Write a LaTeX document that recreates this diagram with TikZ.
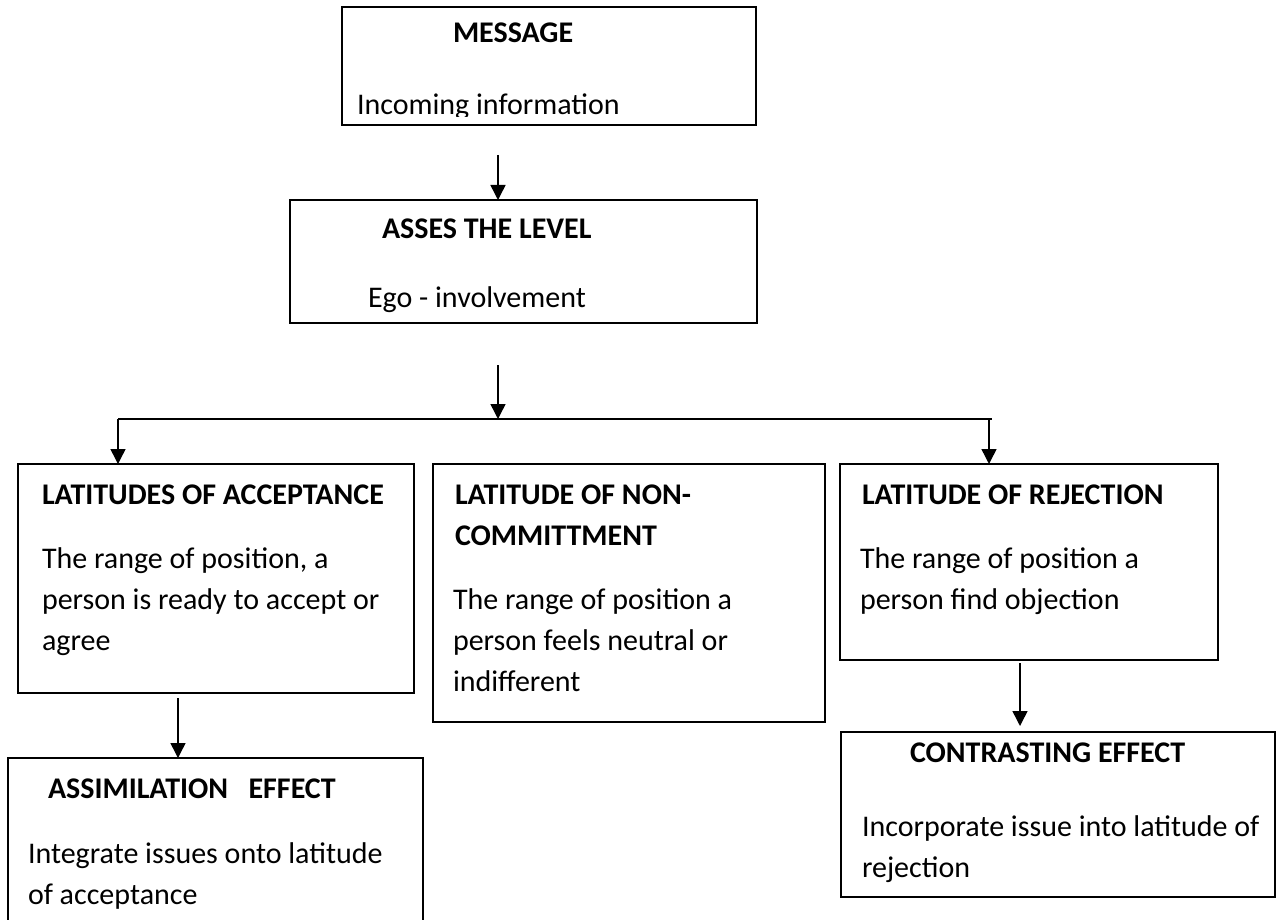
\documentclass[tikz,border=0pt]{standalone}
\usepackage{fontspec}
\setmainfont{Carlito}
\usetikzlibrary{arrows.meta}
\begin{document}
\begin{tikzpicture}[x=1pt,y=-1pt,
  box/.style={draw,line width=2.2pt,inner sep=0pt,outer sep=0pt},
  txt/.style={anchor=base west,inner sep=0pt,outer sep=0pt,font=\fontsize{30}{41}\selectfont},
  ttl/.style={anchor=base west,inner sep=0pt,outer sep=0pt,font=\fontsize{30}{41}\selectfont\bfseries},
  arr/.style={line width=1.5pt,-{Triangle[length=15pt,width=15pt]}},
  link/.style={line width=1.5pt}]
\fill[white] (0,0) rectangle (1277,920);
\useasboundingbox (0,0) rectangle (1277,920);

% boxes
\node[box,minimum width=414pt,minimum height=118pt] (M) at (549,66) {};
\node[box,minimum width=467pt,minimum height=123pt] (A) at (523.5,261.5) {};
\node[box,minimum width=396pt,minimum height=229pt] (L) at (216,578.5) {};
\node[box,minimum width=392pt,minimum height=258pt] (N) at (629,593) {};
\node[box,minimum width=378pt,minimum height=196pt] (R) at (1029,562) {};
\node[box,minimum width=415pt,minimum height=172pt] (S) at (215.5,844) {};
\node[box,minimum width=434pt,minimum height=165pt] (C) at (1058,814.5) {};

% texts
\node[ttl] (mt) at (453,43) {MESSAGE};
\begin{scope}
  \clip (342,7) rectangle (756,117);
  \node[txt] (mb) at (357,115) {Incoming information};
\end{scope}
\node[ttl] (at) at (382,238) {ASSES THE LEVEL};
\node[txt] (ab) at (368,307) {Ego - involvement};

\node[ttl] (lt) at (42,504) {LATITUDES OF ACCEPTANCE};
\node[txt] (l1) at (42,568) {The range of position, a};
\node[txt] (l2) at (42,609) {person is ready to accept or};
\node[txt] (l3) at (42,650) {agree};

\node[ttl] (nt1) at (455,504) {LATITUDE OF NON-};
\node[ttl] (nt2) at (455,545) {COMMITTMENT};
\node[txt] (n1) at (453,609) {The range of position a};
\node[txt] (n2) at (453,650) {person feels neutral or};
\node[txt] (n3) at (453,691) {indifferent};

\node[ttl] (rt) at (862,504) {LATITUDE OF REJECTION};
\node[txt] (r1) at (860,568) {The range of position a};
\node[txt] (r2) at (860,609) {person find objection};

\node[ttl] (st) at (48,798) {ASSIMILATION\ \ \ EFFECT};
\node[txt] (s1) at (28,863) {Integrate issues onto latitude};
\node[txt] (s2) at (28,904) {of acceptance};

\node[ttl] (ct) at (910,762) {CONTRASTING EFFECT};
\node[txt] (c1) at (862,836) {Incorporate issue into latitude of};
\node[txt] (c2) at (862,877) {rejection};

% connectors
\coordinate (a1) at (498,155);
\draw[arr] (a1) -- (a1 |- A.north);
\coordinate (a2) at (498,365);
\coordinate (j) at (498,419);
\draw[arr] (a2) -- (j);
\coordinate (hl) at (118,419);
\coordinate (hr) at (992,419);
\draw[link] (hl) -- (hr);
\draw[arr] (hl) -- (hl |- L.north);
\coordinate (rr) at (989,419);
\draw[arr] (rr) -- (rr |- R.north);
\coordinate (a5) at (178,698);
\draw[arr] (a5) -- (a5 |- S.north);
\coordinate (a6) at (1020,663);
\draw[arr,shorten >=6pt] (a6) -- (a6 |- C.north);
\end{tikzpicture}
\end{document}
